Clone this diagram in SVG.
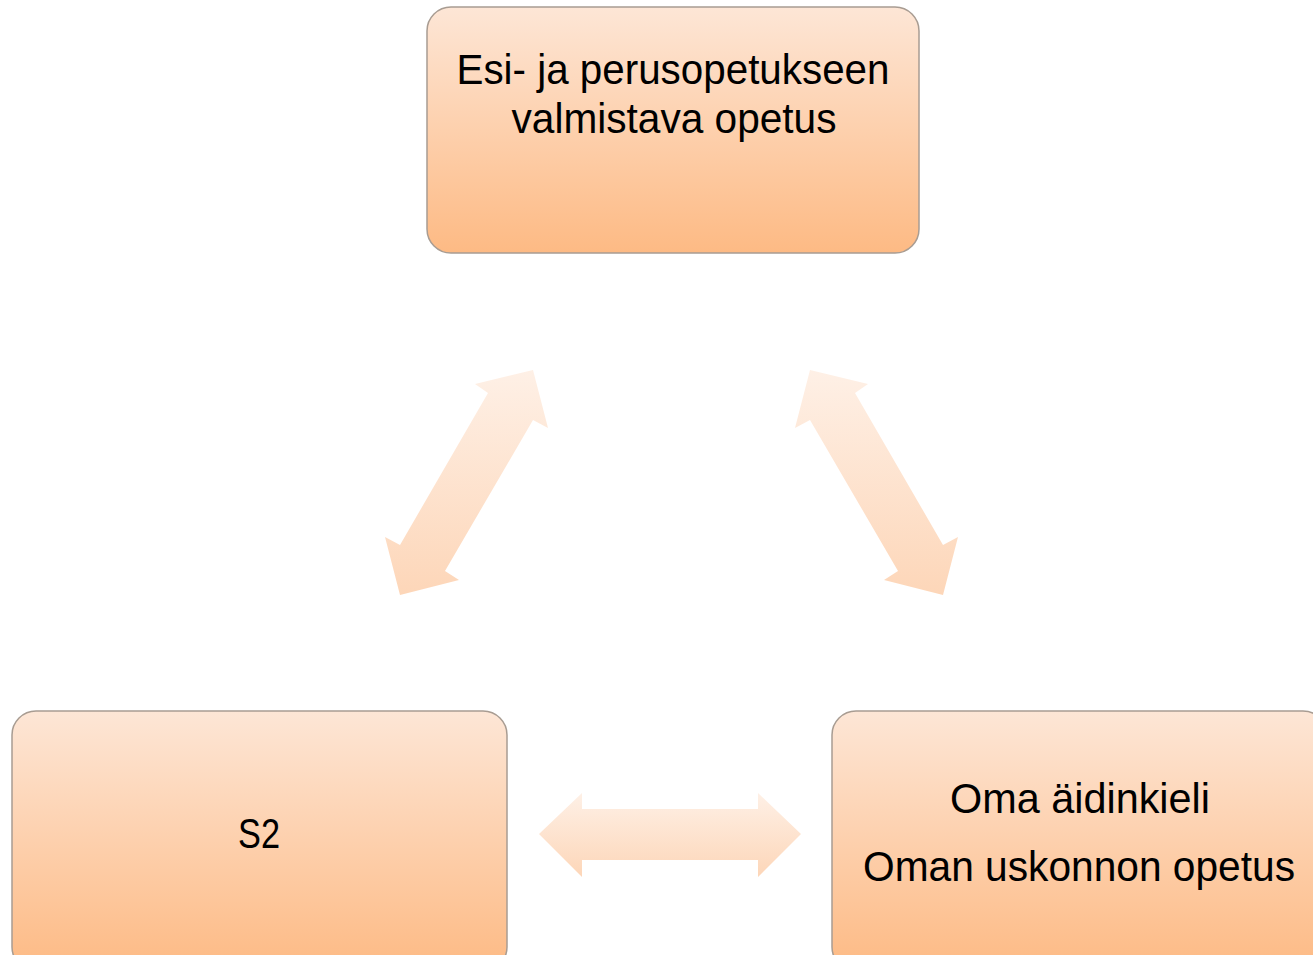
<svg xmlns="http://www.w3.org/2000/svg" width="1313" height="955" viewBox="0 0 1313 955">
<defs>
<linearGradient id="boxGrad" x1="0" y1="0" x2="0" y2="1">
<stop offset="0" stop-color="#FDE6D6"/>
<stop offset="1" stop-color="#FDBA84"/>
</linearGradient>
<linearGradient id="arrowGradV" gradientUnits="userSpaceOnUse" x1="0" y1="370" x2="0" y2="596">
<stop offset="0" stop-color="#FEF0E6"/>
<stop offset="1" stop-color="#FDD6B8"/>
</linearGradient>
<linearGradient id="arrowGradH" gradientUnits="userSpaceOnUse" x1="0" y1="793" x2="0" y2="877">
<stop offset="0" stop-color="#FEF0E6"/>
<stop offset="1" stop-color="#FDD6B8"/>
</linearGradient>
</defs>
<style>
.box{fill:url(#boxGrad);stroke:#A89C92;stroke-width:1.5}
.lbl{font-family:"Liberation Sans",Arial,sans-serif;font-size:43px;fill:#000;text-anchor:middle}
</style>
<g id="connectors">
<path id="arrow-left" fill="url(#arrowGradV)" d="M533,370 L548,428 L533,420 L445,571 L459,580 L400,595 L385,537 L400,545 L488,393 L475,384 Z"/>
<path id="arrow-right" fill="url(#arrowGradV)" transform="translate(1343,0) scale(-1,1)" d="M533,370 L548,428 L533,420 L445,571 L459,580 L400,595 L385,537 L400,545 L488,393 L475,384 Z"/>
<path id="arrow-bottom" fill="url(#arrowGradH)" d="M539,834 L582,793 L582,809 L758,809 L758,793 L801,834 L758,877 L758,860 L582,860 L582,877 Z"/>
</g>
<g id="node-top">
<rect class="box" x="427" y="7" width="492" height="246" rx="24"/>
<text class="lbl" x="673" y="84" textLength="433" lengthAdjust="spacingAndGlyphs">Esi- ja perusopetukseen</text>
<text class="lbl" x="674" y="133" textLength="325" lengthAdjust="spacingAndGlyphs">valmistava opetus</text>
</g>
<g id="node-left">
<rect class="box" x="12" y="711" width="495" height="260" rx="24"/>
<text class="lbl" x="259" y="848" textLength="42" lengthAdjust="spacingAndGlyphs">S2</text>
</g>
<g id="node-right">
<rect class="box" x="832" y="711" width="495" height="260" rx="24"/>
<text class="lbl" x="1080" y="813" textLength="260" lengthAdjust="spacingAndGlyphs">Oma äidinkieli</text>
<text class="lbl" x="1079" y="881" textLength="432" lengthAdjust="spacingAndGlyphs">Oman uskonnon opetus</text>
</g>
</svg>
